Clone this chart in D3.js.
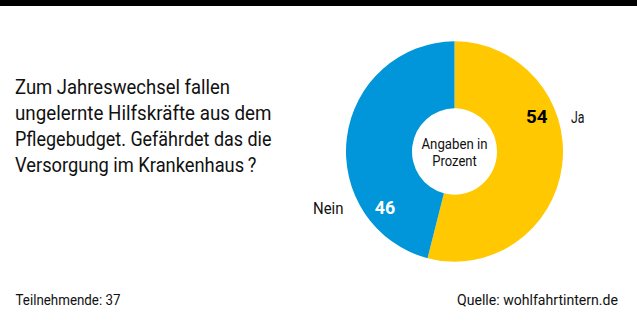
<!DOCTYPE html>
<html>
<head>
<meta charset="utf-8">
<script src="https://cdn.jsdelivr.net/npm/d3@7"></script>
<style>
  html, body { margin: 0; padding: 0; background: #fff; }
  svg { display: block; }
  text { font-family: "Roboto", "DejaVu Sans Condensed", sans-serif; }
</style>
</head>
<body>
<svg id="chart" width="637" height="325"></svg>
<script>
const categories = ["Ja", "Nein"];
const values = [54, 46];
const colors = ["#ffc800", "#0096d9"];
const titleLines = [
  "Zum Jahreswechsel fallen",
  "ungelernte Hilfskräfte aus dem",
  "Pflegebudget. Gefährdet das die",
  "Versorgung im Krankenhaus\u2009?"
];
const centerLines = ["Angaben in", "Prozent"];
const footerLeft = "Teilnehmende: 37";
const footerRight = "Quelle: wohlfahrtintern.de";

// layout (widths of text runs, to emulate the condensed typeface)
const titleWidths = [215, 256.5, 256.5, 241.5];
const centerWidths = [66, 44.5];

const svg = d3.select("#chart");
const W = 637, H = 325;
const fit = (sel, w) => sel.attr("textLength", w).attr("lengthAdjust", "spacingAndGlyphs");

svg.append("rect").attr("x", 0).attr("y", 0).attr("width", W).attr("height", 6).attr("fill", "#000");

// Title
titleLines.forEach((line, i) => {
  svg.append("text").attr("x", 15).attr("y", 93.5 + i * 26.3)
    .attr("font-size", 21).attr("fill", "#111").text(line)
    .call(fit, titleWidths[i]);
});

// Donut
const cx = 454.5, cy = 151.5, outerR = 108.5, innerR = 42.5;
const g = svg.append("g").attr("transform", `translate(${cx},${cy})`);
const pie = d3.pie().sort(null).value(d => d)(values);
const arc = d3.arc().innerRadius(innerR).outerRadius(outerR);
g.append("g").attr("transform", "scale(1,1.015)")
  .selectAll("path").data(pie).join("path")
  .attr("d", arc).attr("fill", (d, i) => colors[i]);

// Center label
centerLines.forEach((line, i) => {
  g.append("text").attr("text-anchor", "middle").attr("x", 0).attr("y", -2.5 + i * 17.3)
    .attr("font-size", 14.5).attr("fill", "#111").text(line)
    .call(fit, centerWidths[i]);
});

// Value labels (polar placement)
const labelAngles = [67, 231];     // degrees clockwise from top
const labelR = 89.5;
const valueColors = ["#000", "#fff"];
const valueWidths = [21.5, 20.5];
const pol = (a, r) => [Math.sin(a * Math.PI / 180) * r, -Math.cos(a * Math.PI / 180) * r];
values.forEach((v, i) => {
  const [x, y] = pol(labelAngles[i], labelR);
  g.append("text").attr("x", x).attr("y", y + 6.5).attr("text-anchor", "middle")
    .attr("font-size", 18).attr("font-weight", "bold").attr("fill", valueColors[i]).text(v)
    .call(fit, valueWidths[i]);
});
// Category labels
g.append("text").attr("x", 571 - cx).attr("y", 122.7 - cy).attr("font-size", 16.5).attr("fill", "#111")
  .text(categories[0]).call(fit, 13.5);
g.append("text").attr("x", 343.5 - cx).attr("y", 214 - cy).attr("text-anchor", "end").attr("font-size", 16.5).attr("fill", "#111")
  .text(categories[1]).call(fit, 30.5);

// Footer
svg.append("text").attr("x", 15.5).attr("y", 305).attr("font-size", 15).attr("fill", "#111").text(footerLeft).call(fit, 105);
svg.append("text").attr("x", 618).attr("y", 305).attr("text-anchor", "end").attr("font-size", 15).attr("fill", "#111").text(footerRight).call(fit, 161);
</script>
</body>
</html>
